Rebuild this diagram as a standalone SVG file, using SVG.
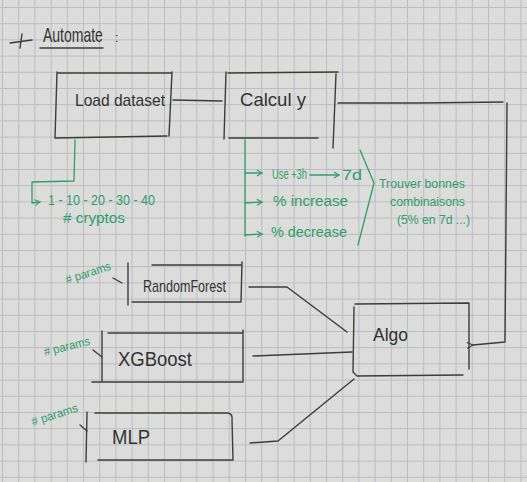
<svg xmlns="http://www.w3.org/2000/svg" width="527" height="482" viewBox="0 0 527 482">
<defs>
<pattern id="grid" x="2" y="7" width="16.2" height="16.2" patternUnits="userSpaceOnUse">
<path d="M0,0.5 H16.2 M0.5,0 V16.2" fill="none" stroke="#b9bcc6" stroke-width="1"/>
</pattern>
<marker id="openL" markerWidth="8" markerHeight="8" refX="1" refY="4" orient="auto" markerUnits="userSpaceOnUse">
<path d="M7,1 L1,4 L7,7" fill="none" stroke="#3c3c3c" stroke-width="1"/>
</marker>
<marker id="gArrow" markerWidth="8" markerHeight="8" refX="6" refY="4" orient="auto" markerUnits="userSpaceOnUse">
<path d="M1,1 L6,4 L1,7" fill="none" stroke="#2f9e6e" stroke-width="1.1"/>
</marker>
</defs>
<style>
.pen{fill:none;stroke:#3c3c3c;stroke-width:1.4;stroke-linecap:round;stroke-linejoin:round}
.gpen{fill:none;stroke:#2f9e6e;stroke-width:1.3;stroke-linecap:round;stroke-linejoin:round}
.lbl{font-family:"Liberation Sans","DejaVu Sans",sans-serif;fill:#333333}
.glbl{font-family:"Liberation Sans","DejaVu Sans",sans-serif;fill:#2f9e6e}
</style>
<rect width="527" height="482" fill="#dcdcda"/>
<rect width="527" height="482" fill="url(#grid)"/>

<g id="title">
<path class="pen" d="M10,43 L32,40 M22,34 L20,48"/>
<text class="lbl" font-size="14" transform="translate(43,42) scale(1,1.4)">Automate</text>
<path class="pen" d="M40,48 L103,48"/>
<text class="lbl" x="115" y="42" font-size="12">:</text>
</g>

<g id="connectors">
<path class="pen" d="M173,100 L222,101"/>
<path class="pen" d="M338,103 L420,103 L503,102 M507,103 L505,342 L473,345" marker-end="url(#openL)"/>
<path class="pen" d="M249,287 L287,287 L347,332"/>
<path class="pen" d="M253,356 L352,352"/>
<path class="pen" d="M250,443 L278,441 L354,379"/>
</g>

<g id="load-dataset">
<path class="pen" d="M57,73 L172,73 M57,72 L55,138 L167,136 M172,72 L169,136"/>
<text class="lbl" x="75" y="106" font-size="17" textLength="90" lengthAdjust="spacingAndGlyphs">Load dataset</text>
</g>

<g id="calcul-y">
<path class="pen" d="M226,72 L224,139 M228,73 L338,72 M229,138 L318,138 M336,74 L333,148"/>
<text class="lbl" x="240" y="106" font-size="19" textLength="66" lengthAdjust="spacingAndGlyphs">Calcul y</text>
</g>

<g id="algo">
<path class="pen" d="M355,304 L469,303 M354,307 L353,372 L357,376 M357,376 L463,375 M469,303 L469,369"/>
<text class="lbl" x="373" y="341" font-size="19" textLength="35" lengthAdjust="spacingAndGlyphs">Algo</text>
</g>

<g id="randomforest">
<path class="pen" d="M128,263 L128,305 M152,265 L242,265 M132,302 L240,302 M242,262 L241,302"/>
<text class="lbl" x="143" y="292" font-size="17" textLength="83" lengthAdjust="spacingAndGlyphs">RandomForest</text>
</g>

<g id="xgboost">
<path class="pen" d="M102,331 L102,382 M108,333 L243,333 M92,382 L243,382 M243,330 L243,382"/>
<text class="lbl" x="118" y="366" font-size="20" textLength="74" lengthAdjust="spacingAndGlyphs">XGBoost</text>
</g>

<g id="mlp">
<path class="pen" d="M87,412 L86,462 M95,413 L228,413 Q233,414 232,420 L233,460 M98,460 L233,460"/>
<text class="lbl" x="112" y="444" font-size="20" textLength="38" lengthAdjust="spacingAndGlyphs">MLP</text>
</g>

<g id="cryptos-note">
<path class="gpen" d="M75,140 L74,181 L32,182 L32,203 L40,202" marker-end="url(#gArrow)"/>
<text class="glbl" x="48" y="205" font-size="14" textLength="107" lengthAdjust="spacingAndGlyphs">1 - 10 - 20 - 30 - 40</text>
<text class="glbl" x="63" y="223" font-size="14" textLength="62" lengthAdjust="spacingAndGlyphs"># cryptos</text>
</g>

<g id="y-options">
<path class="gpen" d="M245,140 L245,236"/>
<path class="gpen" d="M245,173 L262,173" marker-end="url(#gArrow)"/>
<path class="gpen" d="M245,203 L262,202" marker-end="url(#gArrow)"/>
<path class="gpen" d="M245,235 L262,234" marker-end="url(#gArrow)"/>
<text class="glbl" x="272" y="179" font-size="14" textLength="35" lengthAdjust="spacingAndGlyphs">Use +3h</text>
<path class="gpen" d="M310,175 L339,175" marker-end="url(#gArrow)"/>
<text class="glbl" x="342" y="180" font-size="14" textLength="20" lengthAdjust="spacingAndGlyphs">7d</text>
<text class="glbl" x="273" y="206" font-size="14" textLength="75" lengthAdjust="spacingAndGlyphs">% increase</text>
<text class="glbl" x="271" y="237" font-size="14" textLength="76" lengthAdjust="spacingAndGlyphs">% decrease</text>
<path class="gpen" d="M360,150 L374,183 L358,245"/>
<text class="glbl" x="379" y="188" font-size="13" textLength="86" lengthAdjust="spacingAndGlyphs">Trouver bonnes</text>
<text class="glbl" x="390" y="206" font-size="13" textLength="75" lengthAdjust="spacingAndGlyphs">combinaisons</text>
<text class="glbl" x="397" y="224" font-size="12" textLength="73" lengthAdjust="spacingAndGlyphs">(5% en 7d ...)</text>
</g>

<g id="params-notes">
<text class="glbl" font-size="12" transform="translate(67,284) rotate(-18)" textLength="47" lengthAdjust="spacingAndGlyphs"># params</text>
<path class="pen" d="M113,278 L122,283"/>
<text class="glbl" font-size="12" transform="translate(45,356) rotate(-14)" textLength="47" lengthAdjust="spacingAndGlyphs"># params</text>
<path class="pen" d="M93,350 L102,357"/>
<text class="glbl" font-size="12" transform="translate(33,426) rotate(-18)" textLength="48" lengthAdjust="spacingAndGlyphs"># params</text>
<path class="pen" d="M80,425 L87,431"/>
</g>
</svg>
